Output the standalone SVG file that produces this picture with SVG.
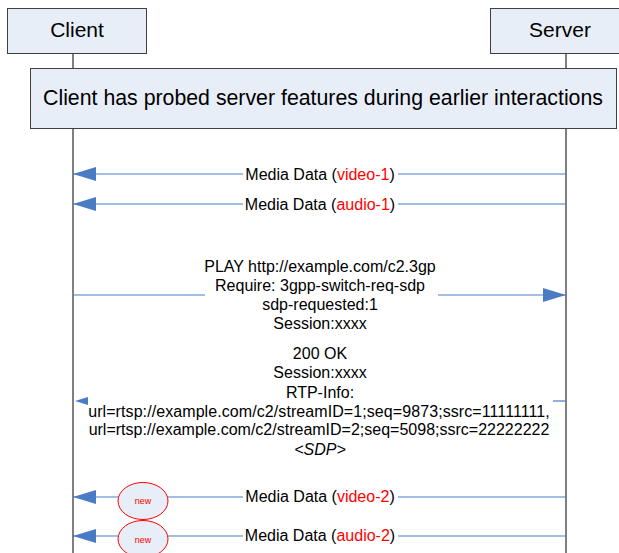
<svg xmlns="http://www.w3.org/2000/svg" width="619" height="553" viewBox="0 0 619 553">
<defs>
<style>
.box{fill:#E8EEF7;stroke:#404040;stroke-width:1}
.life{stroke:#000;stroke-width:1}
.msg{stroke:#4A7CC6;stroke-width:1.2;fill:none}
.head{fill:#4A7CC6}
.t{font-family:"Liberation Sans",Arial,sans-serif;fill:#000;text-anchor:middle}
.red{fill:#FF0000}
.lbl{font-size:16px}
.ell{fill:#E8EEF7;stroke:#FF0000;stroke-width:1}
</style>
<marker id="ah" markerWidth="23" markerHeight="14" refX="23" refY="7" orient="auto" markerUnits="userSpaceOnUse">
<path d="M0,0 L23,7 L0,14 Z" fill="#4A7CC6"/>
</marker>
</defs>
<rect width="619" height="553" fill="#fff"/>
<g id="lifelines">
<line class="life" x1="73" y1="53" x2="73" y2="553"/>
<line class="life" x1="566" y1="53" x2="566" y2="553"/>
</g>
<g id="client">
<rect class="box" x="7.5" y="8.5" width="139" height="45"/>
<text class="t" x="77" y="37" font-size="21">Client</text>
</g>
<g id="server">
<rect class="box" x="490.5" y="8.5" width="130" height="45"/>
<text class="t" x="560" y="37" font-size="21">Server</text>
</g>
<g id="note">
<rect class="box" x="30.5" y="68.5" width="586" height="60"/>
<text class="t" x="323" y="105" font-size="21.3">Client has probed server features during earlier interactions</text>
</g>
<g id="connectors">
<line class="msg" x1="566" y1="174" x2="73" y2="174" marker-end="url(#ah)"/>
<line class="msg" x1="566" y1="204" x2="73" y2="204" marker-end="url(#ah)"/>
<line class="msg" x1="73" y1="295" x2="205" y2="295"/>
<line class="msg" x1="438" y1="295" x2="566" y2="295" marker-end="url(#ah)"/>
<line class="msg" x1="566" y1="401" x2="553" y2="401"/>
<polygon class="head" points="75,401 88,397 88,405"/>
<line class="msg" x1="566" y1="497" x2="73" y2="497" marker-end="url(#ah)"/>
<line class="msg" x1="566" y1="536" x2="73" y2="536" marker-end="url(#ah)"/>
</g>
<g id="label-video1">
<rect x="243" y="165" width="155" height="18" fill="#fff"/>
<text class="t lbl" x="320" y="180">Media Data (<tspan class="red">video-1</tspan>)</text>
</g>
<g id="label-audio1">
<rect x="243" y="195" width="155" height="18" fill="#fff"/>
<text class="t lbl" x="320" y="210">Media Data (<tspan class="red">audio-1</tspan>)</text>
</g>
<g id="label-play">
<text class="t lbl" x="320" y="272">PLAY http://example.com/c2.3gp</text>
<text class="t lbl" x="320" y="291">Require: 3gpp-switch-req-sdp</text>
<text class="t lbl" x="320" y="310">sdp-requested:1</text>
<text class="t lbl" x="320" y="329">Session:xxxx</text>
</g>
<g id="label-200ok">
<text class="t lbl" x="320" y="359">200 OK</text>
<text class="t lbl" x="320" y="378">Session:xxxx</text>
<text class="t lbl" x="320" y="398">RTP-Info:</text>
<text class="t lbl" x="319" y="417" letter-spacing="0.08">url=rtsp://example.com/c2/streamID=1;seq=9873;ssrc=11111111,</text>
<text class="t lbl" x="319" y="435">url=rtsp://example.com/c2/streamID=2;seq=5098;ssrc=22222222</text>
<text class="t lbl" x="320" y="455" font-style="italic">&lt;SDP&gt;</text>
</g>
<g id="label-video2">
<rect x="243" y="487" width="155" height="18" fill="#fff"/>
<text class="t lbl" x="320" y="502">Media Data (<tspan class="red">video-2</tspan>)</text>
</g>
<g id="label-audio2">
<rect x="243" y="526" width="155" height="18" fill="#fff"/>
<text class="t lbl" x="320" y="541">Media Data (<tspan class="red">audio-2</tspan>)</text>
</g>
<g id="new1">
<ellipse class="ell" cx="143" cy="501" rx="25" ry="18.5"/>
<text class="t red" x="143" y="504" font-size="9">new</text>
</g>
<g id="new2">
<ellipse class="ell" cx="143" cy="539" rx="25" ry="18.5"/>
<text class="t red" x="143" y="543" font-size="9">new</text>
</g>
</svg>
